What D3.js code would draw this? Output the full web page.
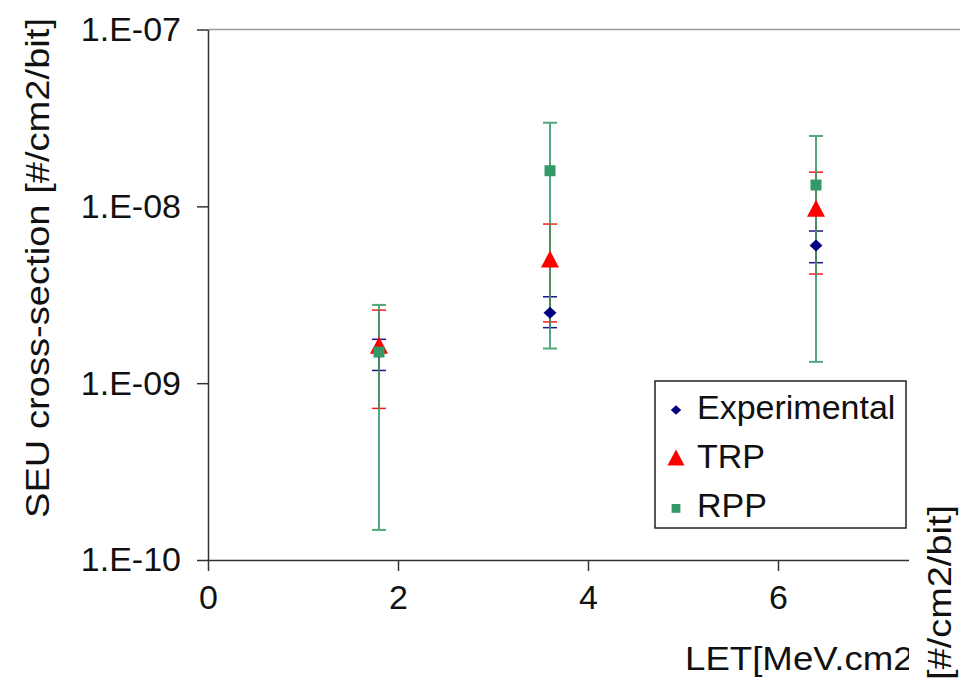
<!DOCTYPE html>
<html>
<head>
<meta charset="utf-8">
<script src="https://cdn.jsdelivr.net/npm/d3@7"></script>
<style>
  body { margin: 0; background: #fff; }
  svg { display: block; font-family: "Liberation Sans", Arial, sans-serif; }
</style>
</head>
<body>
<svg id="chart"></svg>
<script>
// LET values (MeV.cm2/mg)
const letValues = [1.8, 3.6, 6.4];

// SEU cross-section, value with lower / upper error bounds
const expVal = [1.5e-9, 2.5e-9, 6.0e-9];
const expLo = [1.18e-9, 2.06e-9, 4.8e-9];
const expHi = [1.77e-9, 3.08e-9, 7.25e-9];

const trpVal = [1.58e-9, 4.86e-9, 9.4e-9];
const trpLo = [7.2e-10, 2.22e-9, 4.14e-9];
const trpHi = [2.59e-9, 7.94e-9, 1.56e-8];

const rppVal = [1.5e-9, 1.59e-8, 1.32e-8];
const rppLo = [1.48e-10, 1.57e-9, 1.32e-9];
const rppHi = [2.77e-9, 2.97e-8, 2.5e-8];

const xTicks = [0, 2, 4, 6];
const yTicks = [1e-10, 1e-9, 1e-8, 1e-7];
const yTickLabels = ['1.E-10', '1.E-09', '1.E-08', '1.E-07'];

const series = [
  {name: 'Experimental', val: expVal, lo: expLo, hi: expHi, color: '#000080', shape: 'diamond'},
  {name: 'TRP', val: trpVal, lo: trpLo, hi: trpHi, color: '#ff0000', shape: 'triangle'},
  {name: 'RPP', val: rppVal, lo: rppLo, hi: rppHi, color: '#339966', shape: 'square'},
];

const width = 960;
const height = 682;
const margin = {top: 29.5, left: 208, bottom: 122};
const plotRight = 968;

const svg = d3.select('#chart')
  .attr('width', width)
  .attr('height', height);

const x = d3.scaleLinear().domain([0, 8]).range([margin.left, plotRight]);
const y = d3.scaleLog().domain([1e-10, 1e-7]).range([height - margin.bottom, margin.top]);

const font = 34;

// plot area top border (grey)
svg.append('line')
  .attr('x1', x(0)).attr('x2', plotRight)
  .attr('y1', y(1e-7)).attr('y2', y(1e-7))
  .attr('stroke', '#999').attr('stroke-width', 1.5);

// axes
const xAxis = svg.append('g')
  .attr('transform', `translate(0,${y(1e-10)})`)
  .call(d3.axisBottom(x).tickValues(xTicks).tickSize(11).tickPadding(14).tickSizeOuter(0));
const yAxis = svg.append('g')
  .attr('transform', `translate(${x(0)},0)`)
  .call(d3.axisLeft(y).tickValues(yTicks).tickFormat((d, i) => yTickLabels[i]).tickSize(11).tickPadding(16).tickSizeOuter(0));

[xAxis, yAxis].forEach(a => {
  a.select('.domain').attr('stroke', '#333').attr('stroke-width', 1.5);
  a.selectAll('.tick line').attr('stroke', '#333').attr('stroke-width', 1.5);
  a.selectAll('.tick text')
    .attr('fill', '#111')
    .style('font-family', '"Liberation Sans", Arial, sans-serif')
    .style('font-size', font + 'px');
});

// error bars: experimental and TRP first, RPP on top
const cap = 7;
series.forEach(s => {
  const g = svg.append('g')
    .attr('stroke', s.color)
    .attr('stroke-width', s.shape === 'square' ? 2 : 1.5)
    .attr('opacity', s.shape === 'square' ? 0.85 : 0.9);
  letValues.forEach((l, i) => {
    const cx = x(l);
    g.append('line').attr('x1', cx).attr('x2', cx).attr('y1', y(s.lo[i])).attr('y2', y(s.hi[i]));
    g.append('line').attr('x1', cx - cap).attr('x2', cx + cap).attr('y1', y(s.lo[i])).attr('y2', y(s.lo[i]));
    g.append('line').attr('x1', cx - cap).attr('x2', cx + cap).attr('y1', y(s.hi[i])).attr('y2', y(s.hi[i]));
  });
});

function markerPath(shape, k) {
  if (shape === 'diamond') {
    const w = 6.5 * k, h = 6 * k;
    return `M0,${-h}L${w},0L0,${h}L${-w},0Z`;
  }
  if (shape === 'triangle') {
    const w = 9 * k, h = 17 * k;
    return `M0,${-h * 2 / 3}L${w},${h / 3}L${-w},${h / 3}Z`;
  }
  const a = 5.5 * k;
  return `M${-a},${-a}H${a}V${a}H${-a}Z`;
}

// markers
series.forEach(s => {
  svg.append('g').selectAll('path')
    .data(letValues)
    .join('path')
    .attr('transform', (d, i) => `translate(${x(d)},${y(s.val[i])})`)
    .attr('d', markerPath(s.shape, 1))
    .attr('fill', s.color);
});

// legend
const legend = svg.append('g');
legend.append('rect')
  .attr('x', 655).attr('y', 381).attr('width', 251).attr('height', 147)
  .attr('fill', '#fff').attr('stroke', '#222').attr('stroke-width', 1.5);
series.forEach((s, i) => {
  const cy = 410 + i * 49.2;
  legend.append('path')
    .attr('transform', `translate(676,${cy + (s.shape === 'triangle' ? 1 : 0)})`)
    .attr('d', markerPath(s.shape, s.shape === 'triangle' ? 0.95 : 0.8))
    .attr('fill', s.color);
  legend.append('text')
    .attr('x', 697).attr('y', cy + 8.5)
    .style('font-size', font + 'px')
    .attr('fill', '#111')
    .text(s.name);
});

// axis titles
svg.append('text')
  .attr('x', 685).attr('y', 670)
  .attr('textLength', 300)
  .attr('lengthAdjust', 'spacingAndGlyphs')
  .style('font-size', font + 'px')
  .attr('fill', '#111')
  .text('LET[MeV.cm2/mg]');

svg.append('text')
  .attr('transform', 'translate(49,268) rotate(-90)')
  .attr('text-anchor', 'middle')
  .attr('textLength', 500)
  .attr('lengthAdjust', 'spacingAndGlyphs')
  .style('font-size', font + 'px')
  .attr('fill', '#111')
  .text('SEU cross-section [#/cm2/bit]');

// secondary title box on the right edge covers the axis end
svg.append('rect')
  .attr('x', 909).attr('y', 538).attr('width', 60).attr('height', 150)
  .attr('fill', '#fff');
svg.append('text')
  .attr('transform', 'translate(951,505) rotate(-90)')
  .attr('text-anchor', 'end')
  .attr('textLength', 175)
  .attr('lengthAdjust', 'spacingAndGlyphs')
  .style('font-size', font + 'px')
  .attr('fill', '#111')
  .text('[#/cm2/bit]');
</script>
</body>
</html>
